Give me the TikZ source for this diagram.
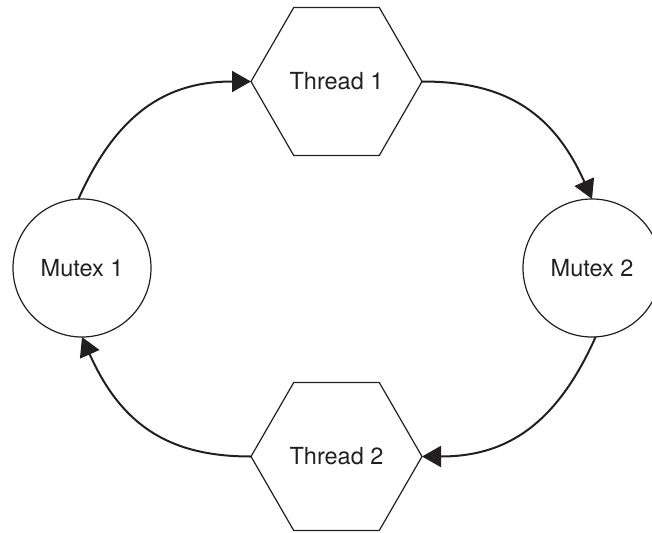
\documentclass[tikz,border=0pt]{standalone}
\usepackage{fontspec}
\setmainfont{TeX Gyre Heros}
\usetikzlibrary{shapes.geometric,arrows.meta}
\definecolor{ink}{HTML}{231F20}
\tikzset{
  mutexnode/.style={circle,draw=ink,line width=1.2pt,minimum size=138pt,inner sep=0pt,outer sep=0pt,text=ink,font=\fontsize{23.5}{28}\selectfont},
  threadnode/.style={regular polygon,regular polygon sides=6,draw=ink,line width=1.2pt,minimum size=171pt,inner sep=0pt,outer sep=0pt,text=ink,font=\fontsize{23.5}{28}\selectfont},
  flow/.style={draw=ink,line width=2pt,-{Triangle[length=19pt,width=21pt]}}
}
\begin{document}
\begin{tikzpicture}[x=1pt,y=1pt]
\useasboundingbox (0,-532) rectangle (652,0);
\node[mutexnode] (m1) at (82,-268) {Mutex 1};
\node[mutexnode] (m2) at (592,-268) {Mutex 2};
\node[threadnode] (t1) at (336.5,-81.5) {Thread 1};
\node[threadnode] (t2) at (336.5,-456.5) {Thread 2};
\draw[flow] (m1.93) to[out=66,in=180,out looseness=1.25,in looseness=0.95] (t1.west);
\draw[flow] (t1.east) to[out=0,in=114,out looseness=0.95,in looseness=1.25] (m2.north);
\draw[flow] (m2.-87) to[out=-114,in=0,out looseness=1.25,in looseness=0.95] (t2.east);
\draw[flow] (t2.west) to[out=180,in=-66,out looseness=0.95,in looseness=1.25] (m1.south);
\end{tikzpicture}
\end{document}
